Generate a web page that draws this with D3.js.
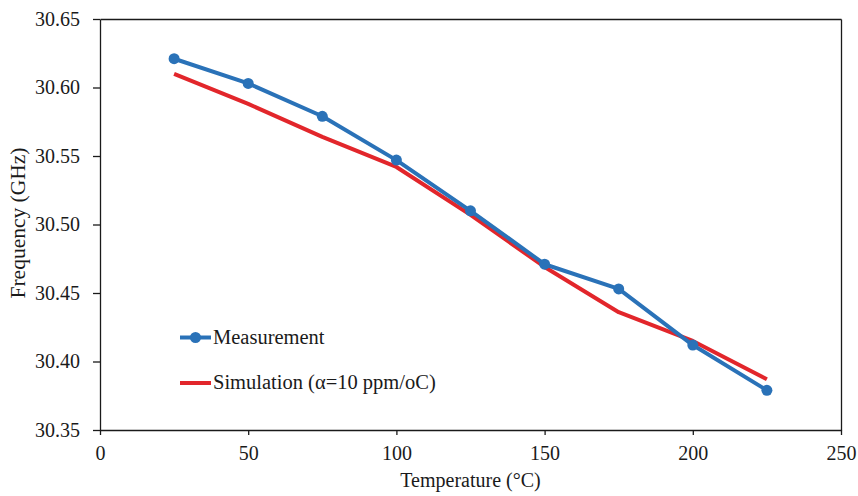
<!DOCTYPE html>
<html>
<head>
<meta charset="utf-8">
<script src="https://cdn.jsdelivr.net/npm/d3@7"></script>
<style>
  body { margin: 0; background: #fff; }
  svg { display: block; }
  .axis text { font-family: "Liberation Serif", "Times New Roman", serif; font-size: 20px; fill: #1a1a1a; }
  .axis path, .axis line { stroke: #1a1a1a; stroke-width: 1.3; }
  .label { font-family: "Liberation Serif", "Times New Roman", serif; font-size: 20px; fill: #1a1a1a; }
</style>
</head>
<body>
<div id="chart"></div>
<script>
var temperatures = [25, 50, 75, 100, 125, 150, 175, 200, 225]
var measurement = [30.621, 30.603, 30.579, 30.547, 30.510, 30.471, 30.453, 30.412, 30.379]
var simulation = [30.610, 30.588, 30.564, 30.542, 30.507, 30.469, 30.436, 30.415, 30.387]
var xTicks = [0, 50, 100, 150, 200, 250]
var yTicks = [30.35, 30.40, 30.45, 30.50, 30.55, 30.60, 30.65]

var width = 858, height = 496
var margin = { top: 19, right: 17, bottom: 66, left: 100 }

var svg = d3.select("#chart").append("svg")
    .attr("width", width)
    .attr("height", height)

var xPositionScale = d3.scaleLinear().domain([0, 250]).range([margin.left, width - margin.right])
var yPositionScale = d3.scaleLinear().domain([30.35, 30.65]).range([height - margin.bottom, margin.top])

var blue = "#2a72b8", red = "#e2262b"

// frame: top and right edges
svg.append("g").attr("class", "axis")
    .attr("transform", "translate(0," + yPositionScale(30.65) + ")")
    .call(d3.axisTop(xPositionScale).tickValues([]).tickSizeOuter(0))
svg.append("g").attr("class", "axis")
    .attr("transform", "translate(" + xPositionScale(250) + ",0)")
    .call(d3.axisRight(yPositionScale).tickValues([]).tickSizeOuter(0))

var yAxis = d3.axisLeft(yPositionScale)
  .tickValues(yTicks)
  .tickFormat(d3.format(".2f"))
  .tickSize(7)
  .tickSizeOuter(0)
  .tickPadding(13)
svg.append("g").attr("class", "axis y-axis")
    .attr("transform", "translate(" + margin.left + ",0)")
    .call(yAxis)

var xAxis = d3.axisBottom(xPositionScale)
  .tickValues(xTicks)
  .tickSize(5)
  .tickSizeOuter(0)
  .tickPadding(11)
svg.append("g").attr("class", "axis x-axis")
    .attr("transform", "translate(0," + yPositionScale(30.35) + ")")
    .call(xAxis)

var line = d3.line()
  .x(function (d) { return xPositionScale(d[0]) })
  .y(function (d) { return yPositionScale(d[1]) })

svg.append("path")
    .datum(d3.zip(temperatures, simulation))
    .attr("d", line)
    .attr("fill", "none")
    .attr("stroke", red)
    .attr("stroke-width", 4)
    .attr("stroke-linejoin", "round")

svg.append("path")
    .datum(d3.zip(temperatures, measurement))
    .attr("d", line)
    .attr("fill", "none")
    .attr("stroke", blue)
    .attr("stroke-width", 4)
    .attr("stroke-linejoin", "round")

svg.selectAll("circle.meas")
    .data(d3.zip(temperatures, measurement))
    .enter().append("circle")
    .attr("class", "meas")
    .attr("r", 5.5)
    .attr("cx", function (d) { return xPositionScale(d[0]) })
    .attr("cy", function (d) { return yPositionScale(d[1]) })
    .attr("fill", blue)

// axis titles
svg.append("text").attr("class", "label")
    .attr("x", (xPositionScale(0) + xPositionScale(250)) / 2)
    .attr("y", 487)
    .attr("text-anchor", "middle")
    .text("Temperature (°C)")

svg.append("text").attr("class", "label")
    .attr("transform", "translate(25,223) rotate(-90)")
    .attr("text-anchor", "middle")
    .style("font-size", "21.5px")
    .text("Frequency (GHz)")

// legend
var legend = svg.append("g")
var legendItems = [
  { name: "Measurement", color: blue, marker: true, y: 337.5 },
  { name: "Simulation (α=10 ppm/oC)", color: red, marker: false, y: 383 }
]
legendItems.forEach(function (item) {
  legend.append("line")
    .attr("x1", 180).attr("x2", 211)
    .attr("y1", item.y).attr("y2", item.y)
    .attr("stroke", item.color)
    .attr("stroke-width", 4)
  if (item.marker) {
    legend.append("circle")
      .attr("cx", 195.5).attr("cy", item.y).attr("r", 5.5)
      .attr("fill", item.color)
  }
  legend.append("text").attr("class", "label")
    .attr("x", 213)
    .attr("y", item.y)
    .attr("dy", "0.3em")
    .style("font-size", "20.5px")
    .text(item.name)
})
</script>
</body>
</html>
